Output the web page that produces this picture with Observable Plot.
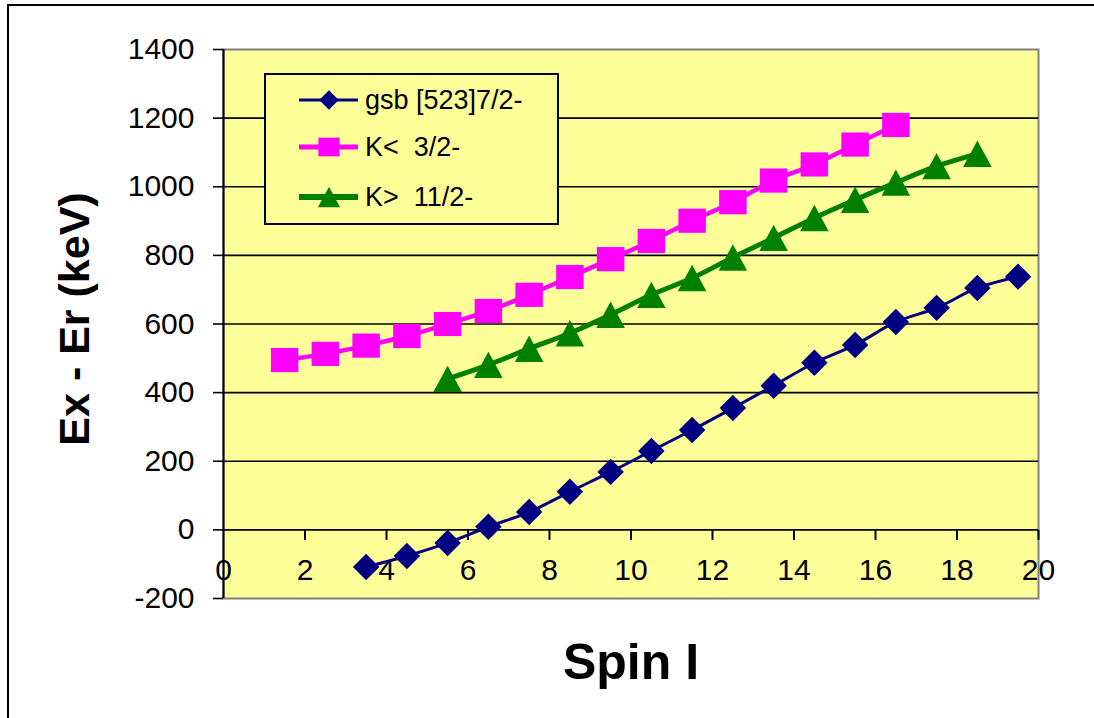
<!DOCTYPE html>
<html><head><meta charset="utf-8">
<script src="https://cdn.jsdelivr.net/npm/d3@7"></script>
<script src="https://cdn.jsdelivr.net/npm/@observablehq/plot@0.6"></script>
<style>
body{margin:0;background:#fff;font-family:"Liberation Sans",Arial,sans-serif;}
#wrap{position:relative;width:1094px;height:718px;overflow:hidden;background:#fff;}
#outer{position:absolute;left:7px;top:4px;width:1300px;height:900px;border-left:2px solid #000;border-top:2px solid #000;}
#chart{position:absolute;left:0;top:0;}
#legend{position:absolute;left:264px;top:73px;width:291px;height:148px;border:2px solid #000;background:#FFFF99;}
.row{position:absolute;left:0;height:30px;}
.row svg{position:absolute;left:31px;top:0;}
.row span{position:absolute;left:99px;top:0;line-height:30px;font-size:27px;color:#000;white-space:pre;}
</style>
</head><body>
<div id="wrap"><div id="outer"></div><div id="chart"></div><div id="legend"></div></div>
<script>
// ---- data ----
const seriesNames = ["gsb [523]7/2-", "K<  3/2-", "K>  11/2-"];
const seriesColors = ["#000080", "#FF00FF", "#008000"];
const gsbSpin = [3.5,4.5,5.5,6.5,7.5,8.5,9.5,10.5,11.5,12.5,13.5,14.5,15.5,16.5,17.5,18.5,19.5];
const gsbE    = [-108,-76,-38,9,52,111,169,230,291,355,420,487,539,606,647,705,738];
const kLessSpin = [1.5,2.5,3.5,4.5,5.5,6.5,7.5,8.5,9.5,10.5,11.5,12.5,13.5,14.5,15.5,16.5];
const kLessE    = [495,513,537,565,600,638,685,737,789,842,901,955,1018,1065,1123,1180];
const kGreaterSpin = [5.5,6.5,7.5,8.5,9.5,10.5,11.5,12.5,13.5,14.5,15.5,16.5,17.5,18.5];
const kGreaterE    = [440,481,528,573,627,685,734,794,851,909,962,1012,1060,1096];
const xTicks = [0,2,4,6,8,10,12,14,16,18,20];
const yTicks = [-200,0,200,400,600,800,1000,1200,1400];
const gridVals = [0,200,400,600,800,1000,1200];
const xTitle = "Spin I";
const yTitle = "Ex - Er (keV)";

// ---- symbols ----
const diamondSym = {draw(ctx, size){const r = Math.sqrt(size/Math.PI)*1.15; ctx.moveTo(0,-r); ctx.lineTo(r,0); ctx.lineTo(0,r); ctx.lineTo(-r,0); ctx.closePath();}};
const squareSym = {draw(ctx, size){const r = Math.sqrt(size/Math.PI); const w = r*1.25, h = r*1.1; ctx.rect(-w,-h,2*w,2*h);}};
const triangleSym = {draw(ctx, size){const r = Math.sqrt(size/Math.PI); const w = r*1.3, h = r*1.2; ctx.moveTo(0,-h); ctx.lineTo(w,h); ctx.lineTo(-w,h); ctx.closePath();}};
const tickSym = {draw(ctx, size){ctx.moveTo(0,0); ctx.lineTo(0,10);}};
const symbols = [diamondSym, squareSym, triangleSym];

const rows = (xs, ys) => xs.map((x,i)=>({x, y: ys[i]}));
const gsb = rows(gsbSpin, gsbE), kl = rows(kLessSpin, kLessE), kg = rows(kGreaterSpin, kGreaterE);

const chart = Plot.plot({
  width: 1094, height: 718,
  marginLeft: 223, marginRight: 56, marginTop: 49, marginBottom: 120,
  style: {fontFamily: "'Liberation Sans', Arial, sans-serif", background: "transparent", color: "#000"},
  x: {domain: [0,20], axis: null},
  y: {domain: [-200,1400], axis: null},
  marks: [
    Plot.frame({fill: "#FFFF99", stroke: "#808080", strokeWidth: 2}),
    Plot.ruleY(gridVals, {stroke: "#000", strokeWidth: 1.6}),
    Plot.ruleX([0], {stroke: "#000", strokeWidth: 2}),
    Plot.axisY({ticks: yTicks, tickSize: 10, tickPadding: 19, fontSize: 30, label: null, strokeWidth: 1.6, tickFormat: d => String(d)}),
    Plot.dot(xTicks.slice(1), {x: d=>d, y: 0, symbol: tickSym, r: 5, stroke: "#000", fill: "none", strokeWidth: 2}),
    Plot.text(xTicks, {x: d=>d, y: 0, dy: 41, text: d=>String(d), fontSize: 30}),
    Plot.line(gsb, {x: "x", y: "y", stroke: seriesColors[0], strokeWidth: 3, curve: "catmull-rom"}),
    Plot.line(kl, {x: "x", y: "y", stroke: seriesColors[1], strokeWidth: 4.5, curve: "catmull-rom"}),
    Plot.line(kg, {x: "x", y: "y", stroke: seriesColors[2], strokeWidth: 5, curve: "catmull-rom"}),
    Plot.dot(gsb, {x: "x", y: "y", symbol: diamondSym, r: 11.5, fill: seriesColors[0], stroke: "none"}),
    Plot.dot(kl, {x: "x", y: "y", symbol: squareSym, r: 11, fill: seriesColors[1], stroke: "none"}),
    Plot.dot(kg, {x: "x", y: "y", symbol: triangleSym, r: 11, fill: seriesColors[2], stroke: "none"}),
    Plot.text([yTitle], {frameAnchor: "left", dx: -148, dy: -5, rotate: -90, fontSize: 43, fontWeight: "bold", textAnchor: "middle", lineAnchor: "middle"}),
    Plot.text([xTitle], {frameAnchor: "bottom", dy: 64, fontSize: 50, fontWeight: "bold", textAnchor: "middle", lineAnchor: "middle"})
  ]
});
document.getElementById("chart").appendChild(chart);

// ---- legend ----
const legend = document.getElementById("legend");
const rowTops = [10, 57, 107];
const lineWidths = [3, 5, 6];
const legendSymR = [8.5, 8.5, 8.5];
seriesNames.forEach((name, i) => {
  const row = document.createElement("div");
  row.className = "row";
  row.style.top = rowTops[i] + "px";
  const svg = d3.create("svg").attr("width", 62).attr("height", 30);
  svg.append("line").attr("x1", 2).attr("x2", 61).attr("y1", 15).attr("y2", 15)
    .attr("stroke", seriesColors[i]).attr("stroke-width", lineWidths[i]);
  const sizeArea = Math.PI * legendSymR[i] * legendSymR[i];
  svg.append("path").attr("transform", "translate(32,15)")
    .attr("d", d3.symbol(symbols[i], sizeArea)()).attr("fill", seriesColors[i]);
  row.appendChild(svg.node());
  const span = document.createElement("span");
  span.textContent = name;
  row.appendChild(span);
  legend.appendChild(row);
});
</script>
</body></html>
